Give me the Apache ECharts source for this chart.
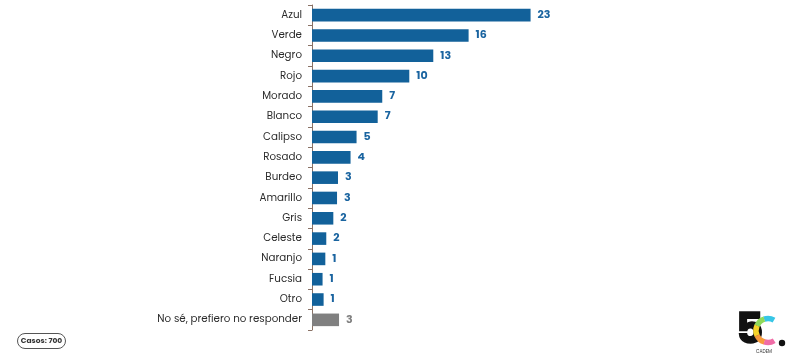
<!DOCTYPE html>
<html><head><meta charset="utf-8">
<script src="https://cdn.jsdelivr.net/npm/echarts@6/dist/echarts.min.js"></script>
<style>html,body{margin:0;padding:0;background:#fff}#c{width:800px;height:364px}</style>
</head><body><div id="c"></div>
<script>
const categories = ['Azul','Verde','Negro','Rojo','Morado','Blanco','Calipso','Rosado','Burdeo','Amarillo','Gris','Celeste','Naranjo','Fucsia','Otro','No sé, prefiero no responder'];
const values = [22.96, 16.45, 12.74, 10.22, 7.38, 6.9, 4.68, 4.05, 2.73, 2.63, 2.24, 1.5, 1.4, 1.11, 1.22, 2.84];
const casosText = 'Casos: 700';

const blue = '#12619a', gray = '#808080';
const font = 'Poppins, "Open Sans", sans-serif';
const chart = echarts.init(document.getElementById('c'), null, {renderer:'canvas'});
const arcColors = ['#37c6e6','#8fd95a','#f6d42a','#f79a3c','#f06ca6'];
const arcs = [];
const span = (2*Math.PI - 2*Math.PI/3);
for (let i=0;i<arcColors.length;i++){
  const s = -Math.PI/3 - span*i/arcColors.length;
  const e = -Math.PI/3 - span*(i+1)/arcColors.length;
  arcs.push({type:'arc', shape:{cx:768, cy:330.5, r:12, startAngle:s, endAngle:e-0.02, clockwise:false},
    style:{stroke:arcColors[i], fill:null, lineWidth:5.5}});
}
chart.setOption({
  animation:false,
  grid:{left:312, top:5, bottom:34, right:250, containLabel:false},
  xAxis:{type:'value', min:0, max:25, show:false},
  yAxis:{type:'category', data:categories, inverse:true,
    axisLine:{show:true, lineStyle:{color:'#8a7266', width:1}},
    axisTick:{show:true, length:4, lineStyle:{color:'#8a7266'}},
    axisLabel:{color:'#2b2b2b', fontSize:10.3, fontFamily:font, margin:10}},
  series:[{type:'bar', barWidth:'62%',
    data: values.map((v,i)=>({value:v, itemStyle:{color: i===values.length-1?gray:blue},
      label:{color: i===values.length-1?gray:'#1a64a0'}})),
    label:{show:true, position:'right', distance:7, fontSize:11, fontWeight:'bold', fontFamily:font,
      formatter:p=>Math.round(p.value)}}],
  graphic:[
    {type:'rect', shape:{x:17.5, y:333.5, width:48, height:15, r:7.5}, style:{fill:'#fff', stroke:'#555', lineWidth:1}},
    {type:'text', x:41.5, y:341, style:{text:casosText, fontSize:7.5, fontWeight:'bold', fill:'#333', fontFamily:font, align:'center', verticalAlign:'middle'}},
    {type:'text', x:736, y:311, style:{text:'5', fontSize:42, fontWeight:'bold', fill:'#111', fontFamily:font, stroke:'#111', lineWidth:1.5}},
    ...arcs,
    {type:'circle', shape:{cx:782, cy:343, r:3.2}, style:{fill:'#111'}},
    {type:'text', x:764, y:349, style:{text:'CADEM', fontSize:4.5, fill:'#333', fontFamily:font, align:'center'}}
  ]
});
</script></body></html>
